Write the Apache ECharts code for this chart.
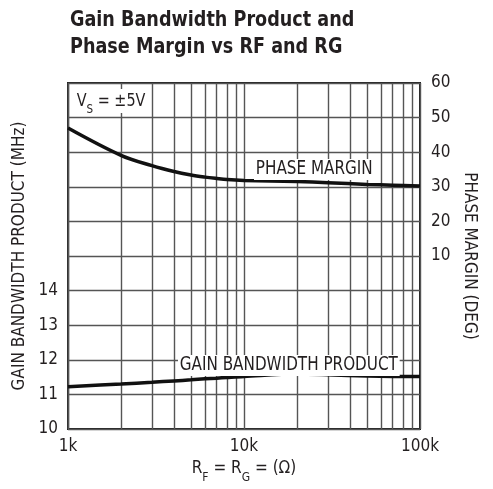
<!DOCTYPE html>
<html>
<head>
<meta charset="utf-8">
<script src="https://cdn.jsdelivr.net/npm/echarts@6/dist/echarts.min.js"></script>
<style>
html,body{margin:0;padding:0;background:#fff;}
#chart{width:493px;height:489px;}
</style>
</head>
<body>
<div id="chart"></div>
<script>
// Data
var resistance = [1000, 2000, 3000, 4000, 5000, 6000, 7000, 8000, 10000, 20000, 30000, 50000, 70000, 100000];
var phaseMargin = [47.0, 39.1, 36.1, 34.4, 33.4, 32.8, 32.4, 32.1, 31.85, 31.5, 31.2, 30.7, 30.45, 30.2];
var gainBandwidth = [11.22, 11.30, 11.35, 11.39, 11.42, 11.45, 11.47, 11.49, 11.52, 11.59, 11.57, 11.53, 11.52, 11.52];
var minorGridX = [2000, 3000, 4000, 5000, 6000, 7000, 8000, 9000, 20000, 30000, 40000, 50000, 60000, 70000, 80000, 90000];
var leftTickMaxLabel = 14;
var rightTickMinLabel = 10;

var FONT = "'Liberation Sans Narrow', 'DejaVu Sans Condensed', 'Roboto', sans-serif";
var TXT = '#231f20';
var GRID = '#555555';
var SQUEEZE = 0.89;

function pairs(xs, ys) { return xs.map(function (x, i) { return [x, ys[i]]; }); }

var chart = echarts.init(document.getElementById('chart'));
chart.setOption({
  animation: false,
  backgroundColor: '#fff',
  textStyle: { fontFamily: FONT, color: TXT },
  grid: { left: 68, right: 73, top: 83, bottom: 52, show: true, borderColor: '#222', borderWidth: 2, backgroundColor: 'transparent' },
  xAxis: {
    type: 'log', logBase: 10, min: 1000, max: 100000,
    axisLine: { show: false }, axisTick: { show: false },
    splitLine: { show: true, lineStyle: { color: GRID, width: 1.4 } },
    axisLabel: { fontFamily: FONT, fontSize: 17, color: TXT, margin: 9,
      formatter: function (v) { return (v / 1000) + 'k'; } },
    name: '{a|R}{s|F}{a| = R}{s|G}{a| = (Ω)}',
    nameLocation: 'middle', nameGap: 29,
    nameTextStyle: { rich: {
      a: { fontFamily: FONT, fontSize: 17, color: TXT, verticalAlign: 'middle', lineHeight: 22 },
      s: { fontFamily: FONT, fontSize: 12, color: TXT, verticalAlign: 'bottom', lineHeight: 22, padding: [0, 0, -4, 0] }
    } }
  },
  yAxis: [
    {
      type: 'value', min: 10, max: 20, interval: 1, position: 'left',
      axisLine: { show: false }, axisTick: { show: false },
      splitLine: { show: true, lineStyle: { color: GRID, width: 1.4 } },
      axisLabel: { fontFamily: FONT, fontSize: 17, color: TXT, margin: 10,
        formatter: function (v) { return v <= leftTickMaxLabel ? String(v) : ''; } },
      name: 'GAIN BANDWIDTH PRODUCT (MHz)', nameLocation: 'middle', nameGap: 32, nameRotate: 90,
      nameTextStyle: { fontFamily: FONT, fontSize: 17, color: TXT }
    },
    {
      type: 'value', min: -40, max: 60, interval: 10, position: 'right',
      axisLine: { show: false }, axisTick: { show: false },
      splitLine: { show: false },
      axisLabel: { fontFamily: FONT, fontSize: 17, color: TXT, margin: 11,
        formatter: function (v) { return v >= rightTickMinLabel ? String(v) : ''; } },
      name: 'PHASE MARGIN (DEG)', nameLocation: 'middle', nameGap: 33, nameRotate: -90,
      nameTextStyle: { fontFamily: FONT, fontSize: 17, color: TXT }
    }
  ],
  series: [
    {
      type: 'line', name: 'grid', data: [], z: 1, silent: true,
      markLine: {
        silent: true, symbol: 'none', animation: false,
        label: { show: false },
        lineStyle: { color: GRID, width: 1.4, type: 'solid' },
        data: minorGridX.map(function (x) { return { xAxis: x }; })
      }
    },
    {
      type: 'line', name: 'PHASE MARGIN', yAxisIndex: 1, z: 5,
      data: pairs(resistance, phaseMargin),
      smooth: 0.35, showSymbol: false,
      lineStyle: { color: '#111', width: 3.5 }
    },
    {
      type: 'line', name: 'GAIN BANDWIDTH PRODUCT', yAxisIndex: 0, z: 5,
      data: pairs(resistance, gainBandwidth),
      smooth: 0.35, showSymbol: false,
      lineStyle: { color: '#111', width: 3.5 }
    }
  ],
  graphic: [
    { type: 'text', x: 70, y: 7, scaleX: SQUEEZE, z: 10,
      style: { text: 'Gain Bandwidth Product and\nPhase Margin vs RF and RG', fontFamily: FONT, fontWeight: 'bold', fontSize: 22, lineHeight: 27, fill: TXT } },
    { type: 'text', x: 74, y: 89, scaleX: SQUEEZE, z: 10,
      style: { text: '{a|V}{s|S}{a| = ±5V}', backgroundColor: '#fff', padding: [1, 3, 1, 3],
        rich: {
          a: { fontFamily: FONT, fontSize: 18, fill: TXT, verticalAlign: 'middle', lineHeight: 22 },
          s: { fontFamily: FONT, fontSize: 13, fill: TXT, verticalAlign: 'bottom', lineHeight: 22, padding: [0, 0, -4, 0] }
        } } },
    { type: 'text', x: 254, y: 159, scaleX: SQUEEZE, z: 10,
      style: { text: 'PHASE MARGIN', fontFamily: FONT, fontSize: 19, fill: TXT, backgroundColor: '#fff', padding: [1, 2, 1, 2] } },
    { type: 'text', x: 178, y: 355, scaleX: SQUEEZE, z: 10,
      style: { text: 'GAIN BANDWIDTH PRODUCT', fontFamily: FONT, fontSize: 19, fill: TXT, backgroundColor: '#fff', padding: [1, 2, 1, 2] } }
  ]
});
</script>
</body>
</html>
